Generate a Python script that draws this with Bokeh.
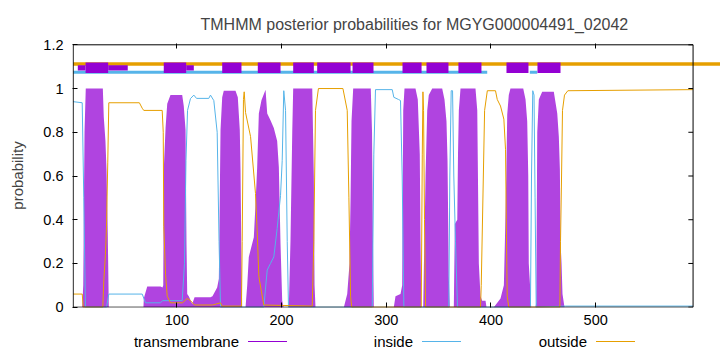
from bokeh.plotting import figure
from bokeh.models import Range1d, LinearAxis, FixedTicker, Div
from bokeh.layouts import column
from bokeh.embed import file_html
from bokeh.resources import INLINE

# ---------------- data ----------------
title_text = "TMHMM posterior probabilities for MGYG000004491_02042"
y_label = "probability"
series_names = ["transmembrane", "inside", "outside"]
seq_len = 593
x_ticks = [100, 200, 300, 400, 500]
y_ticks = [0, 0.2, 0.4, 0.6, 0.8, 1.0, 1.2]
y_tick_labels = ["0", "0.2", "0.4", "0.6", "0.8", "1", "1.2"]

# transmembrane posterior (residue, probability)
tm_x = [1, 9.6, 10.6, 11.8, 13.0, 29.3, 30.2, 31.8, 32.8, 34.0, 35.0,
        68.1, 68.4, 71.7, 84.4, 86.3, 87.0, 87.5, 89.2, 90.8, 93.9, 105.1, 106.6, 108.3, 109.2, 109.9,
        111.4, 114.7, 116.9, 132.1, 134.0, 138.5, 140.1, 141.7, 143.3, 144.8, 156.0, 158.2, 160.1,
        160.8, 161.7, 162.4, 165.6, 167.2, 168.7, 173.5, 175.1, 176.7, 178.3, 180.8, 184.7, 186.3,
        189.4, 192.6, 195.8, 197.4, 199.0, 200.6, 201.9, 206.9, 208.5, 210.2, 211.1, 229.3, 230.8,
        231.5, 232.4, 259.5, 262.7, 264.9, 265.9, 266.8, 268.4, 285.2, 286.4, 287.3, 288.1,
        307.2, 308.8, 313.6, 315.2, 316.2, 317.4, 327.9, 330.1, 332.0, 332.7, 333.4, 335.3, 335.9,
        336.8, 337.5, 339.1, 340.6, 343.9, 353.4, 355.6, 357.5, 358.5, 359.7, 360.7, 364.5, 365.5,
        367.8, 368.5, 369.3, 370.9, 385.2, 386.9, 387.4, 388.4, 390.0, 391.6, 394.8, 395.7, 402.7,
        406.0, 409.1, 412.3, 413.2, 414.6, 415.5, 417.0, 418.6, 430.8, 433.0, 434.6, 435.6, 436.1,
        437.3, 438.4, 442.5, 443.2, 444.2, 445.7, 448.9, 460.0, 463.3, 464.8, 465.8, 466.4, 467.4,
        468.3, 470.2, 593]
tm_y = [0, 0, 0.1, 0.8, 1.0, 1.0, 0.87, 0.76, 0.63, 0.34, 0,
        0, 0.04, 0.095, 0.095, 0.09, 0.1, 0.63, 0.82, 0.93, 0.97, 0.97, 0.92, 0.81, 0.29, 0.06,
        0.05, 0.015, 0.046, 0.046, 0.05, 0.09, 0.13, 0.81, 0.96, 0.99, 0.99, 0.96, 0.81,
        0.63, 0.2, 0, 0, 0.1, 0.23, 0.32, 0.47, 0.64, 0.886, 0.946, 0.995, 0.886,
        0.855, 0.82, 0.76, 0.64, 0.29, 0.03, 0, 0, 0.3, 0.8, 1.0, 1.0, 0.6,
        0.1, 0, 0, 0.06, 0.2, 0.5, 0.85, 1.0, 1.0, 0.8, 0.3, 0,
        0, 0.05, 0.06, 0.1, 0.9, 1.0, 1.0, 0.95, 0.7, 0.3, 0, 0, 0.18,
        0.4, 0.6, 0.9, 0.97, 1.0, 1.0, 0.95, 0.85, 0.67, 0.14, 0, 0, 0.38,
        0.4, 0.7, 0.9, 1.0, 1.0, 0.9, 0.67, 0.2, 0.05, 0.03, 0.03, 0, 0,
        0.02, 0.04, 0.1, 0.28, 0.6, 0.88, 0.97, 1.0, 1.0, 0.95, 0.85, 0.6, 0.2,
        0.1, 0, 0, 0.02, 0.8, 0.95, 0.985, 0.985, 0.886, 0.78, 0.63, 0.3, 0.2,
        0.06, 0, 0]

# inside posterior
in_x = [1, 9.6, 11.1, 12.7, 32.8, 35.0, 66.9, 70.1, 84.4, 86.3, 105.1, 107.3, 108.7, 110.2,
        113.0, 116.2, 118.8, 130.5, 132.1, 135.3, 138.5, 140.3, 141.7, 183.0, 186.3, 189.4,
        192.6, 195.8, 199.0, 200.6, 202.1, 203.8, 205.4, 206.6, 286.6, 288.1, 289.7, 305.7,
        307.2, 311.7, 313.6, 315.2, 316.8, 359.7, 360.7, 362.0, 363.3, 364.5, 366.1, 368.0,
        437.7, 438.7, 439.9, 441.1, 442.1, 443.2, 471.2, 593]
in_y = [0.94, 0.935, 0.5, 0.0, 0.0, 0.06, 0.06, 0.02, 0.02, 0.03, 0.03, 0.2, 0.67, 0.9,
        0.954, 0.97, 0.955, 0.955, 0.97, 0.945, 0.8, 0.3, 0.0, 0.0, 0.17, 0.2,
        0.23, 0.36, 0.51, 0.67, 0.99, 0.9, 0.3, 0.0, 0.0, 0.7, 0.995, 0.995,
        0.96, 0.95, 0.945, 0.6, 0.0, 0.0, 0.6, 0.99, 0.99, 0.6, 0.3, 0.0,
        0.0, 0.6, 0.99, 0.97, 0.5, 0.0, 0.005, 0.005]

# outside posterior
out_x = [1, 9.6, 10.6, 29.3, 30.2, 31.8, 32.8, 34.0, 35.0, 64.2, 66.9, 68.4, 86.0, 87.0, 87.5,
         89.2, 90.8, 93.9, 105.4, 109.9, 113.0, 116.9, 134.0, 141.7, 143.3, 161.7, 162.4, 163.6,
         164.3, 165.6, 170.4, 175.1, 176.7, 178.3, 183.0, 229.3, 230.8, 232.4, 235.2, 258.6,
         262.7, 264.3, 265.9, 267.0, 333.4, 334.4, 335.0, 335.6, 336.5, 337.5, 390.0, 390.7, 393.9,
         396.5, 404.3, 406.0, 409.1, 412.3, 413.9, 414.6, 415.5, 417.0, 465.8, 466.4, 467.4,
         468.3, 470.2, 473.4, 593]
out_y = [0.06, 0.06, 0.0, 0.0, 0.12, 0.24, 0.37, 0.66, 0.935, 0.935, 0.91, 0.9, 0.9, 0.8, 0.37,
         0.15, 0.05, 0.02, 0.02, 0.04, 0.03, 0.01, 0.01, 0.02, 0.005, 0.005, 0.3, 0.95,
         0.985, 0.89, 0.78, 0.52, 0.35, 0.14, 0.01, 0.005, 0.3, 0.9, 1.0, 1.0,
         0.9, 0.5, 0.05, 0.0, 0.0, 0.7, 0.985, 0.9, 0.4, 0.0, 0.0, 0.1, 0.9,
         0.99, 0.99, 0.95, 0.92, 0.86, 0.72, 0.4, 0.05, 0.0, 0.0, 0.3, 0.6,
         0.9, 0.97, 0.99, 0.995]

# predicted topology segments (residue ranges)
tm_seg_start = [12.8, 87.5, 143.3, 177.3, 211.1, 234.0, 267.8, 315.5, 338.4, 368.9, 414.8, 444.4]
tm_seg_end = [34.4, 108.9, 161.7, 199.0, 230.8, 265.9, 287.8, 333.7, 359.4, 390.9, 435.8, 466.4]
tm_thin_start = [5.4, 34.4, 108.9]
tm_thin_end = [12.8, 53.1, 116.2]
in_seg_start = [1, 437.1]
in_seg_end = [396.4, 444.2]
out_seg_start = [1]
out_seg_end = [640]

# ---------------- style ----------------
PURPLE = "#9400d3"
PURPLE_FILL = "#b044e0"
BLUE = "#56b4e9"
ORANGE = "#e69f00"
FONT = "Liberation Sans"
FS = "15px"
TICK_FS = "14.5px"

p = figure(width=720, height=330, output_backend="svg", toolbar_location=None,
           x_range=Range1d(0.33, 619.2), y_range=Range1d(-0.0014, 1.206),
           min_border_left=72, min_border_right=0, min_border_top=43, min_border_bottom=23)
p.outline_line_color = None
p.grid.visible = False
p.background_fill_color = "white"

p.title.text = title_text
p.title.align = "left"
p.title.offset = 128
p.title.text_font = FONT
p.title.text_font_size = "16px"
p.title.text_font_style = "normal"
p.title.standoff = 21

# posterior curves
p.varea(x=tm_x, y1=[0] * len(tm_x), y2=tm_y, fill_color=PURPLE_FILL)
p.line(in_x, in_y, line_color=BLUE, line_width=1)
p.line(out_x, out_y, line_color=ORANGE, line_width=1)

# topology bars
p.segment(x0=out_seg_start, x1=out_seg_end, y0=[1.112] * len(out_seg_start), y1=[1.112] * len(out_seg_start),
          line_color=ORANGE, line_width=3.5)
p.segment(x0=in_seg_start, x1=in_seg_end, y0=[1.074] * len(in_seg_start), y1=[1.074] * len(in_seg_start),
          line_color=BLUE, line_width=3)
p.quad(left=tm_thin_start, right=tm_thin_end, bottom=[1.083] * len(tm_thin_start), top=[1.107] * len(tm_thin_start),
       fill_color=PURPLE, line_color=None)
p.quad(left=tm_seg_start, right=tm_seg_end, bottom=[1.071] * len(tm_seg_start), top=[1.119] * len(tm_seg_start),
       fill_color=PURPLE, line_color=None)

# border
p.line([1, seq_len, seq_len, 1, 1], [0, 0, 1.2, 1.2, 0], line_color="black", line_width=1)
# mirrored right ticks
p.segment(x0=[seq_len] * len(y_ticks), x1=[seq_len - 4.5] * len(y_ticks), y0=y_ticks, y1=y_ticks,
          line_color="black", line_width=1)

# axes
xa = p.xaxis[0]
xa.ticker = FixedTicker(ticks=x_ticks)
ya = p.yaxis[0]
ya.ticker = FixedTicker(ticks=y_ticks)
ya.major_label_overrides = {t: s for t, s in zip(y_ticks, y_tick_labels)}
ya.axis_label = y_label
ya.axis_label_text_font = FONT
ya.axis_label_text_font_size = FS
ya.axis_label_text_font_style = "normal"
ya.axis_label_standoff = 14
for ax in (xa, ya):
    ax.axis_line_color = None
    ax.major_tick_in = 5
    ax.major_tick_out = 0
    ax.minor_tick_line_color = None
    ax.major_tick_line_color = "black"
    ax.major_label_text_font = FONT
    ax.major_label_text_font_size = TICK_FS
    ax.major_label_text_color = "black"
xa.major_label_standoff = 7
ya.major_label_standoff = 9

top = LinearAxis(ticker=FixedTicker(ticks=x_ticks), axis_line_color=None, major_tick_in=5, major_tick_out=0,
                 minor_tick_line_color=None, major_label_text_color=None, major_label_text_font_size="1px",
                 major_label_standoff=0)
p.add_layout(top, "above")

# key below the plot: label text followed by a sample line, as in the original
key_text_right = [239, 413, 587]
key_line_left = [248, 422, 596]
key_line_len = 39
key_colors = [PURPLE, BLUE, ORANGE]
parts = []
for name, tr, ll, col in zip(series_names, key_text_right, key_line_left, key_colors):
    parts.append(f'<span style="position:absolute;right:{720 - tr}px;top:4px;line-height:15px;'
                 f'white-space:nowrap">{name}</span>')
    parts.append(f'<span style="position:absolute;left:{ll}px;top:11px;width:{key_line_len}px;'
                 f'height:0;border-top:1px solid {col}"></span>')
html = (f'<div style="position:relative;width:720px;height:22px;font-family:\'{FONT}\';'
        f'font-size:{FS};color:black">' + "".join(parts) + '</div>')
key = Div(text=html, width=720, height=22, margin=(0, 0, 0, 0))

layout = column(p, key, spacing=0)
open("out.html", "w").write(file_html(layout, INLINE))
